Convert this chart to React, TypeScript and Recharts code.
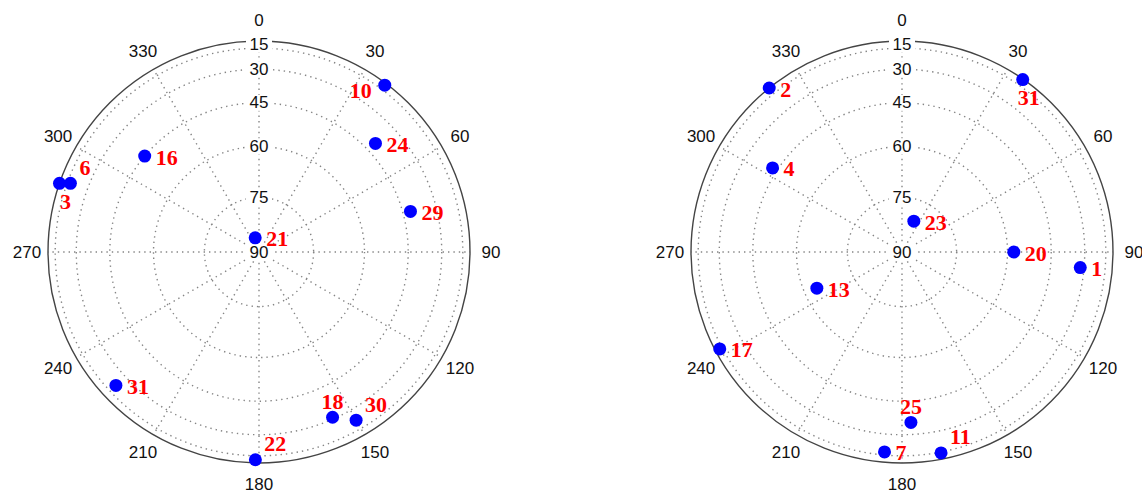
import { RadarChart, PolarGrid, PolarAngleAxis, PolarRadiusAxis, Radar } from 'recharts';

// azimuth spokes (deg, clockwise from north) and elevation rings (deg)
const azimuthTicks = [0, 30, 60, 90, 120, 150, 180, 210, 240, 270, 300, 330];
const elevationTicks = [15, 30, 45, 60, 75, 90];

// left sky plot
const leftSats = ['10', '24', '29', '21', '16', '6', '3', '31', '18', '30', '22'];
const leftAz = [37, 47, 75, 345, 310, 290, 289, 227, 156, 150, 181];
const leftEl = [8, 41, 42, 86, 45, 18, 0, 22, 31, 23, 10];
const leftPlace = ['l', 'r', 'r', 'r', 'r', 'ar', 'b', 'r', 'a', 'ar', 'ar'];

// right sky plot
const rightSats = ['2', '31', '4', '23', '20', '1', '13', '17', '25', '7', '11'];
const rightAz = [321, 35, 303, 21, 90, 95, 247, 242, 177, 185, 169];
const rightEl = [0, 4, 43, 81, 58, 32, 64, 12, 36, 18, 14];
const rightPlace = ['r', 'b', 'r', 'r', 'r', 'r', 'r', 'r', 'a', 'r', 'ar'];

const DEG = Math.PI / 180;
const W = 571;
const H = 495;
const R = 211;
const CY = 252;
const LABEL_R = 232;
const sans = "'Liberation Sans', Arial, sans-serif";
const serif = "'Liberation Serif', 'Times New Roman', serif";

const buildRows = (sats: string[], az: number[], el: number[]) =>
  sats.map((sv, i) => ({ sv, az: az[i], rho: Math.cos(el[i] * DEG) }));

// label offsets relative to the dot: [textAnchor, dx, dy]
const placement: Record<string, [string, number, number]> = {
  r: ['start', 11, 1],
  l: ['end', -13, 5],
  a: ['middle', 0, -16],
  ar: ['start', 9, -16],
  b: ['middle', 6, 18],
};

function SkyPlot({ left, cx, sats, az, el, places }: any) {
  const rows = buildRows(sats, az, el);

  const angleTick = (props: any) => {
    const a = props.payload.value;
    const x = cx + LABEL_R * Math.sin(a * DEG);
    const y = CY - LABEL_R * Math.cos(a * DEG);
    return (
      <text x={x} y={y} textAnchor="middle" dominantBaseline="central" fontSize={17} fontFamily={sans} fill="#111">
        {a}
      </text>
    );
  };

  const radiusTick = (props: any) => {
    const label = String(Math.round(Math.acos(Math.min(1, props.payload.value)) / DEG));
    const w = label.length * 10 + 6;
    const lift = label === '15' ? 4 : 0;
    return (
      <g>
        <rect x={props.x - w / 2} y={props.y - lift - 8} width={w} height={16} fill="#fff" />
        <text x={props.x} y={props.y - lift} textAnchor="middle" dominantBaseline="central" fontSize={17} fontFamily={sans} fill="#111">
          {label}
        </text>
      </g>
    );
  };

  const dot = (props: any) => {
    const { cx: x, cy: y, index } = props;
    const [anchor, dx, dy] = placement[places[index]];
    return (
      <g key={`d-${index}`}>
        <circle cx={x} cy={y} r={6.5} fill="#0000ff" />
        <text
          x={x + dx}
          y={y + dy}
          textAnchor={anchor}
          dominantBaseline="central"
          fontSize={22}
          fontWeight="bold"
          fontFamily={serif}
          fill="#ff0000"
        >
          {rows[index].sv}
        </text>
      </g>
    );
  };

  return (
    <div style={{ position: 'absolute', left, top: 0 }}>
      <RadarChart width={W} height={H} data={rows} cx={cx} cy={CY} outerRadius={R} startAngle={90} endAngle={-270}>
        <PolarGrid
          gridType="circle"
          polarAngles={azimuthTicks.map((a) => 90 - a)}
          polarRadius={elevationTicks.map((e) => R * Math.cos(e * DEG))}
          stroke="#858585"
          strokeWidth={1.4}
          strokeDasharray="1.4 4"
        />
        <PolarAngleAxis
          dataKey="az"
          type="number"
          domain={[0, 360]}
          ticks={azimuthTicks as any}
          tickCount={13}
          axisLineType="circle"
          axisLine={{ stroke: '#444', strokeWidth: 1.4 }}
          tickLine={false}
          tick={angleTick}
        />
        <PolarRadiusAxis
          type="number"
          angle={90}
          domain={[0, 1]}
          ticks={elevationTicks.map((e) => Math.cos(e * DEG)) as any}
          axisLine={false}
          tickLine={false}
          tick={radiusTick}
        />
        <Radar
          dataKey="rho"
          stroke="none"
          fill="none"
          fillOpacity={0}
          dot={dot}
          isAnimationActive={false}
        />
      </RadarChart>
    </div>
  );
}

export default function App() {
  return (
    <div style={{ position: 'absolute', left: 0, top: 0, width: 1142, height: 495, background: '#fff' }}>
      <SkyPlot left={0} cx={259} sats={leftSats} az={leftAz} el={leftEl} places={leftPlace} />
      <SkyPlot left={571} cx={331} sats={rightSats} az={rightAz} el={rightEl} places={rightPlace} />
    </div>
  );
}
